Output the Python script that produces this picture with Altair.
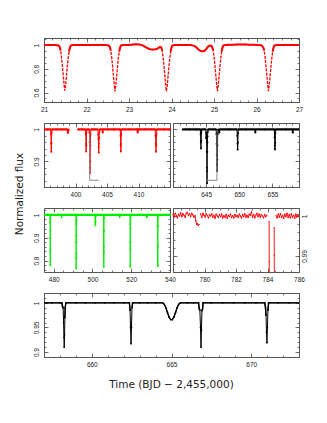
import altair as alt
import pandas as pd

# ---------------- data ----------------
# Panel 1: days 21-27 (red)
t1 = [21.00, 21.05, 21.10, 21.15, 21.20, 21.25, 21.30, 21.34,
      21.37, 21.39, 21.41, 21.43, 21.45, 21.47, 21.49, 21.51, 21.53, 21.55, 21.57, 21.59, 21.61, 21.63,
      21.68, 21.75, 21.85, 21.95, 22.05, 22.15, 22.25, 22.35, 22.45, 22.52,
      22.55, 22.57, 22.59, 22.61, 22.63, 22.65, 22.67, 22.69, 22.71, 22.73, 22.75, 22.77, 22.79, 22.81,
      22.86, 22.95, 23.05, 23.15, 23.25, 23.32, 23.38, 23.44, 23.50, 23.56, 23.62, 23.68, 23.73,
      23.76, 23.78, 23.80, 23.82, 23.84, 23.86, 23.88, 23.90, 23.92, 23.94, 23.96, 23.98, 24.00, 24.02,
      24.07, 24.15, 24.25, 24.35, 24.45, 24.52, 24.58, 24.63, 24.68, 24.73, 24.78, 24.82, 24.86, 24.90, 24.94,
      24.96, 24.98, 25.00, 25.02, 25.04, 25.06, 25.08, 25.10, 25.12, 25.14, 25.16, 25.18, 25.20, 25.22,
      25.27, 25.35, 25.45, 25.55, 25.65, 25.75, 25.85, 25.95, 26.05, 26.12,
      26.16, 26.18, 26.20, 26.22, 26.24, 26.26, 26.28, 26.30, 26.32, 26.34, 26.36, 26.38, 26.40, 26.42,
      26.47, 26.55, 26.65, 26.75, 26.85, 26.95, 27.00]
f1 = [1.000, 1.000, 1.001, 1.000, 1.000, 1.000, 0.999, 0.997,
      0.985, 0.955, 0.905, 0.835, 0.755, 0.675, 0.615, 0.665, 0.745, 0.825, 0.895, 0.945, 0.980, 0.996,
      1.000, 1.001, 1.001, 1.000, 1.000, 1.001, 1.001, 1.000, 1.000, 0.997,
      0.985, 0.955, 0.905, 0.835, 0.755, 0.675, 0.610, 0.660, 0.740, 0.820, 0.890, 0.945, 0.980, 0.996,
      1.000, 1.001, 1.004, 1.007, 1.006, 0.998, 0.986, 0.973, 0.965, 0.962, 0.964, 0.972, 0.985,
      0.980, 0.955, 0.905, 0.835, 0.755, 0.675, 0.612, 0.660, 0.740, 0.820, 0.890, 0.945, 0.980, 0.996,
      1.000, 1.001, 1.001, 1.000, 1.000, 0.996, 0.983, 0.963, 0.951, 0.948, 0.952, 0.968, 0.988, 0.996, 0.993,
      0.980, 0.955, 0.905, 0.835, 0.755, 0.675, 0.612, 0.660, 0.740, 0.820, 0.890, 0.945, 0.980, 0.996,
      1.000, 1.003, 1.004, 1.005, 1.005, 1.005, 1.004, 1.003, 1.001, 0.998,
      0.980, 0.955, 0.905, 0.835, 0.755, 0.675, 0.612, 0.660, 0.740, 0.820, 0.890, 0.945, 0.980, 0.996,
      1.000, 1.001, 1.001, 1.001, 1.000, 1.000, 1.000]

# Panel 2: days 395-415 (red), data gap 398.9-400.4
t2 = [395.00, 395.60, 396.05, 396.10, 396.13, 396.16, 396.19, 396.22, 396.27, 397.00, 397.80,
      398.70, 398.76, 398.80, 398.84, 398.90,
      400.40, 401.00, 401.58, 401.63, 401.66, 401.69, 401.72, 401.75, 401.80,
      402.16, 402.20, 402.23, 402.25, 402.27, 402.29, 402.32, 402.35, 402.39, 402.45,
      403.00, 403.55, 403.60, 403.63, 403.66, 403.69, 403.72, 403.75, 403.78, 403.85,
      404.25, 404.30, 404.33, 404.37, 405.20, 406.10,
      407.10, 407.14, 407.17, 407.20, 407.23, 407.26, 407.30, 408.50,
      409.80, 409.84, 409.87, 409.91, 409.95, 411.00,
      412.65, 412.70, 412.74, 412.78, 412.82, 412.86, 412.90, 414.00, 415.00]
f2 = [1.000, 1.000, 1.000, 0.985, 0.955, 0.930, 0.958, 0.990, 1.000, 1.000, 1.000,
      1.000, 0.992, 0.989, 0.995, 1.000,
      1.000, 1.000, 1.000, 0.985, 0.955, 0.931, 0.950, 0.990, 1.000,
      1.000, 0.990, 0.960, 0.920, 0.880, 0.864, 0.900, 0.950, 0.985, 1.000,
      1.000, 1.000, 0.985, 0.970, 0.945, 0.928, 0.955, 0.975, 0.992, 1.000,
      1.000, 0.992, 0.990, 1.000, 1.000, 1.000,
      1.000, 0.980, 0.950, 0.931, 0.955, 0.985, 1.000, 1.000,
      1.000, 0.993, 0.990, 0.996, 1.000, 1.000,
      1.000, 0.980, 0.955, 0.930, 0.950, 0.985, 1.000, 1.000, 1.000]
gaps2 = [399.5]
br2_t = [402.25, 402.25, 403.68]
br2_f = [0.988, 0.841, 0.841]

# Panel 3: days 640-659 (black)
t3 = [641.46, 642.50, 643.50, 644.12, 644.16, 644.19, 644.22, 644.25, 644.28, 644.32,
      644.95, 645.00, 645.03, 645.06, 645.09, 645.11, 645.13, 645.15, 645.17, 645.19, 645.21, 645.24, 645.28,
      646.50, 646.55, 646.58, 646.61, 646.63, 646.65, 646.68, 646.71, 646.74, 646.80,
      646.95, 647.00, 647.05, 648.50,
      649.65, 649.69, 649.72, 649.75, 649.78, 649.81, 649.86, 651.00,
      652.36, 652.40, 652.43, 652.47, 653.80,
      655.28, 655.32, 655.35, 655.38, 655.41, 655.44, 655.48, 657.00,
      658.00, 658.04, 658.07, 658.10, 659.00]
f3 = [1.000, 1.000, 1.000, 1.000, 0.985, 0.960, 0.940, 0.965, 0.990, 1.000,
      1.000, 0.972, 0.990, 0.975, 0.930, 0.880, 0.832, 0.870, 0.930, 0.960, 0.978, 0.992, 1.000,
      1.000, 0.985, 0.955, 0.920, 0.890, 0.870, 0.905, 0.950, 0.985, 1.000,
      0.992, 0.990, 1.000, 1.000,
      1.000, 0.980, 0.955, 0.937, 0.960, 0.988, 1.000, 1.000,
      1.000, 0.992, 0.990, 1.000, 1.000,
      1.000, 0.975, 0.950, 0.937, 0.958, 0.988, 1.000, 1.000,
      1.000, 0.991, 0.990, 1.000, 1.000]
gaps3 = []
br3_t = [645.13, 646.63, 646.63]
br3_f = [0.841, 0.841, 0.987]

# Panel 4: days 475-540 (green)
t4 = [475.00, 477.00, 478.05, 478.12, 478.18, 478.22, 478.25, 478.29, 478.33, 478.38, 478.45,
      482.00, 484.00, 484.05, 484.10, 488.00,
      491.45, 491.50, 491.55, 491.58, 491.61, 491.64, 491.68, 491.73, 491.80,
      495.00, 498.00, 501.35, 501.42, 501.48, 501.52, 501.56, 501.62, 501.70,
      505.65, 505.72, 505.76, 505.80, 505.84, 505.88, 505.92, 505.97, 506.05,
      510.00, 514.00, 514.05, 514.10,
      519.35, 519.40, 519.45, 519.50, 519.55, 519.60, 519.66, 519.75,
      524.00, 528.00, 528.05, 528.10,
      533.55, 533.60, 533.65, 533.70, 533.75, 533.80, 533.86, 533.95, 537.00, 540.00]
f4 = [1.000, 1.000, 1.000, 0.970, 0.900, 0.840, 0.780, 0.850, 0.930, 0.985, 1.000,
      1.000, 1.000, 0.990, 1.000, 1.000,
      1.000, 0.960, 0.880, 0.810, 0.765, 0.830, 0.910, 0.975, 1.000,
      1.000, 1.000, 1.000, 0.985, 0.965, 0.955, 0.970, 0.992, 1.000,
      1.000, 0.984, 0.930, 0.860, 0.773, 0.840, 0.930, 0.985, 1.000,
      1.000, 1.000, 0.991, 1.000,
      1.000, 0.960, 0.880, 0.773, 0.850, 0.940, 0.990, 1.000,
      1.000, 1.000, 0.990, 1.000,
      1.000, 0.950, 0.860, 0.776, 0.860, 0.950, 0.992, 1.000, 1.000, 1.000]
gaps4 = []

# Panel 5: days 778-786 (red, noisy); gaps after 779.65, 783.95, 784.11, 784.43
t5 = [778.00, 778.07, 778.14, 778.21, 778.28, 778.35, 778.42, 778.49, 778.56, 778.63,
      778.70, 778.77, 778.84, 778.91, 778.98, 779.05, 779.12, 779.19, 779.26, 779.33,
      779.40, 779.45, 779.50, 779.55, 779.60, 779.65,
      779.76, 779.83, 779.90, 779.97, 780.04, 780.11, 780.18, 780.25, 780.32, 780.39,
      780.46, 780.53, 780.60, 780.67, 780.74, 780.81, 780.88, 780.95, 781.02, 781.09,
      781.16, 781.23, 781.30, 781.37, 781.44, 781.51, 781.58, 781.65, 781.72, 781.79,
      781.86, 781.93, 782.00, 782.07, 782.14, 782.21, 782.28, 782.35, 782.42, 782.49,
      782.56, 782.63, 782.70, 782.77, 782.84, 782.91, 782.98, 783.05, 783.12, 783.19,
      783.26, 783.33, 783.40, 783.47, 783.54, 783.61, 783.68, 783.75, 783.82, 783.89, 783.95,
      784.105, 784.110, 784.115,
      784.425, 784.430, 784.435,
      784.54, 784.61, 784.68, 784.75, 784.82, 784.89, 784.96, 785.03, 785.10, 785.17,
      785.24, 785.31, 785.38, 785.45, 785.52, 785.59, 785.66, 785.73, 785.80, 785.87,
      785.94, 786.00]
f5 = [1.0004, 0.9997, 1.0007, 1.0001, 0.9995, 1.0005, 1.0000, 1.0008, 0.9998, 1.0006,
      1.0002, 0.9996, 1.0007, 1.0009, 1.0001, 1.0006, 0.9998, 1.0007, 1.0003, 0.9997,
      1.0001, 0.9988, 0.9979, 0.9981, 0.9976, 0.9979,
      1.0005, 0.9996, 1.0007, 1.0002, 0.9997, 1.0006, 1.0001, 0.9995, 1.0004, 1.0000,
      1.0006, 0.9997, 1.0002, 0.9994, 1.0005, 1.0000, 0.9996, 1.0004, 0.9998, 1.0005,
      0.9995, 1.0001, 0.9997, 1.0004, 0.9994, 1.0002, 0.9998, 1.0005, 0.9996, 1.0001,
      0.9995, 1.0004, 0.9998, 1.0002, 0.9996, 1.0005, 1.0000, 0.9995, 1.0004, 0.9998,
      1.0006, 0.9997, 1.0002, 0.9996, 1.0005, 1.0001, 1.0011, 0.9997, 1.0004, 0.9995,
      1.0002, 1.0007, 0.9998, 1.0005, 0.9996, 1.0004, 1.0000, 0.9995, 1.0004, 0.9998, 1.0002,
      0.9986, 0.9885, 0.9600,
      0.9971, 0.9902, 0.9600,
      1.0001, 0.9995, 1.0005, 0.9997, 1.0006, 0.9996, 1.0002, 0.9994, 1.0005, 0.9998,
      1.0007, 0.9996, 1.0004, 0.9995, 1.0006, 0.9997, 1.0002, 0.9994, 1.0005, 0.9997,
      1.0004, 1.0000]
gaps5 = [779.70, 784.00, 784.30, 784.50]

# Panel 6: days 657-673 (black)
t6 = [657.00, 657.50, 658.00, 658.12, 658.16, 658.20, 658.23, 658.25, 658.27, 658.29, 658.31, 658.33, 658.37,
      659.00, 659.60, 660.20, 660.80, 661.40, 662.00,
      662.36, 662.40, 662.43, 662.46, 662.49, 662.52, 662.56,
      663.00, 663.50, 664.00,
      664.45, 664.55, 664.65, 664.75, 664.85, 664.95, 665.05, 665.15, 665.25, 665.35, 665.45, 665.55,
      666.00, 666.40, 666.70, 666.74, 666.78, 666.82, 666.85, 666.88, 666.91, 666.95, 666.98,
      667.50, 668.20, 668.90, 669.60, 670.30,
      670.85, 670.90, 670.93, 670.96, 670.99, 671.02, 671.05, 671.09,
      671.70, 672.40, 673.00]
f6 = [1.000, 1.000, 1.000, 1.000, 0.993, 0.990, 0.960, 0.930, 0.910, 0.935, 0.970, 0.990, 1.000,
      1.000, 1.000, 1.000, 1.000, 1.000, 1.000,
      1.000, 0.985, 0.950, 0.917, 0.950, 0.990, 1.000,
      1.000, 1.000, 1.000,
      1.000, 0.997, 0.990, 0.980, 0.971, 0.966, 0.966, 0.971, 0.980, 0.990, 0.997, 1.000,
      1.000, 1.000, 1.000, 0.988, 0.985, 0.950, 0.910, 0.945, 0.984, 0.988, 1.000,
      1.000, 1.000, 1.000, 1.000, 1.000,
      1.000, 0.990, 0.975, 0.940, 0.919, 0.950, 0.985, 1.000,
      1.000, 1.000, 1.000]
gaps6 = []

# axis tick values
x1_major = [21, 22, 23, 24, 25, 26, 27]
y1_major = [0.6, 0.8, 1.0]
x2_major = [400, 405, 410]
y2_major = [0.9, 1.0]
x3_major = [645, 650, 655]
x4_major = [480, 500, 520, 540]
y4_major = [0.8, 0.9, 1.0]
x5_major = [780, 782, 784, 786]
y5_major = [0.99, 1.0]
x6_major = [660, 665, 670]
y6_major = [0.9, 0.95, 1.0]


def ticks(a, b, step):
    n = int(round((b - a) / step))
    return [round(a + i * step, 6) for i in range(n + 1)]


def segments(t, gaps):
    return [sum(1 for g in gaps if v > g) for v in t]


def baseline_runs(t, f, seg, thr):
    """Keep the out-of-eclipse points; start a new run after every eclipse or gap."""
    rows, run, prev_ok, prev_seg = [], 0, True, None
    for ti, fi, si in zip(t, f, seg):
        ok = fi >= thr
        if ok and (not prev_ok or (prev_seg is not None and si != prev_seg)):
            run += 1
        if ok:
            rows.append((ti, fi, run))
        prev_ok, prev_seg = ok, si
    return pd.DataFrame(rows, columns=["t", "f", "run"])


# ---------------- styling / layout ----------------
W, H = 255, 64
LEFT = (0, 126)
RIGHT = (129, 255)
FULL = (0, 255)
FRAME = "#555555"
TXT = "#222222"
LFONT = "Liberation Sans"
TFONT = "DejaVu Sans"
MAJ, MIN = 4, 2


def axis(orient, values, t, off, labels=False, pad=0.0, **extra):
    kw = dict(orient=orient, values=values, grid=False, domain=False,
              ticks=True, tickSize=t, tickColor=FRAME, tickWidth=0.8,
              offset=off, labels=labels, title=None)
    if labels:
        horiz = orient in ("top", "bottom")
        kw.update(format="d" if horiz else "~g", labelFont=LFONT, labelFontSize=6.5,
                  labelColor=TXT, labelPadding=pad, labelOverlap=False, labelFlush=False,
                  labelBound=False, labelBaseline="middle", labelAlign="center",
                  labelAngle=0 if horiz else 270)
    kw.update(extra)
    return alt.Axis(**kw)


def frame_axis(orient, off):
    return alt.Axis(orient=orient, values=[], grid=False, domain=True, ticks=False,
                    labels=False, offset=off, domainColor=FRAME, domainWidth=1, title=None)


def panel(t, f, gaps, color, xdom, ydom, xr, xmaj, xmin, ymaj, ymin, ylab="left",
          line_w=1.0, dash=None, pt=3, base_w=None, thr=0.995,
          xtitle=None, ytitle=None, bracket=None):
    L, R = xr
    seg = segments(t, gaps)
    df = pd.DataFrame({"t": t, "f": f, "seg": seg})
    xs = alt.Scale(domain=xdom, range=[L, R], nice=False, zero=False)
    ys = alt.Scale(domain=ydom, nice=False, zero=False)

    def enc(xa, ya):
        return dict(x=alt.X("t:Q", scale=xs, axis=xa), y=alt.Y("f:Q", scale=ys, axis=ya))

    xb = axis("bottom", xmaj, MAJ, -MAJ, labels=True, pad=7, **(xtitle or {}))
    yl = axis("left", ymaj, MAJ, -(L + MAJ), labels=(ylab == "left"), pad=8, **(ytitle or {}))
    xt = axis("top", xmaj, MAJ, -MAJ)
    yr = axis("right", ymaj, MAJ, R - MAJ - W, labels=(ylab == "right"), pad=5.5)
    base = alt.Chart(df)
    line_kw = dict(color=color, strokeWidth=line_w, clip=True)
    if dash:
        line_kw["strokeDash"] = dash
    layers = [
        base.mark_line(**line_kw).encode(detail="seg:N", **enc(xb, yl)),
        base.mark_circle(color=color, size=pt, opacity=1, clip=True).encode(**enc(xt, yr)),
        base.mark_point(opacity=0).encode(**enc(axis("bottom", xmin, MIN, -MIN),
                                                axis("left", ymin, MIN, -(L + MIN)))),
        base.mark_point(opacity=0).encode(**enc(axis("top", xmin, MIN, -MIN),
                                                axis("right", ymin, MIN, R - MIN - W))),
        base.mark_point(opacity=0).encode(**enc(frame_axis("bottom", 0), frame_axis("left", -L))),
        base.mark_point(opacity=0).encode(**enc(frame_axis("top", 0), frame_axis("right", R - W))),
    ]
    if base_w:
        dfo = baseline_runs(t, f, seg, thr)
        layers.append(alt.Chart(dfo).mark_line(color=color, strokeWidth=base_w, clip=True).encode(
            x=alt.X("t:Q", scale=xs, axis=None), y=alt.Y("f:Q", scale=ys, axis=None),
            detail="run:N"))
    if bracket is not None:
        bt, bf = bracket
        dfb = pd.DataFrame({"t": bt, "f": bf, "i": list(range(len(bt)))})
        layers.append(alt.Chart(dfb).mark_line(color="#888888", strokeWidth=1, clip=True).encode(
            x=alt.X("t:Q", scale=xs, axis=None), y=alt.Y("f:Q", scale=ys, axis=None),
            order="i:Q"))
    return alt.layer(*layers).resolve_axis(x="independent", y="independent")


ytitle = dict(title="Normalized flux", titleX=-29, titleY=-14.5, titleAngle=270,
              titleAlign="center", titleBaseline="middle", titleFont=TFONT,
              titleFontSize=10.5, titleFontWeight="normal", titleColor=TXT)
xtitle = dict(title="Time (BJD \u2212 2,455,000)", titleX=127, titleY=31, titleAngle=0,
              titleAlign="center", titleBaseline="middle", titleFont=TFONT,
              titleFontSize=10.5, titleFontWeight="normal", titleColor=TXT)

p1 = panel(t1, f1, [], "#ff0000", [21, 27], [0.52, 1.06], FULL,
           x1_major, ticks(21, 27, 0.2), y1_major, ticks(0.55, 1.05, 0.05),
           line_w=1.3, dash=[3, 1.2], pt=0, base_w=2.0, thr=0.94)
p2 = panel(t2, f2, gaps2, "#ff0000", [395, 415], [0.82, 1.02], LEFT,
           x2_major, ticks(395, 415, 1), y2_major, ticks(0.82, 1.02, 0.02),
           line_w=1.0, pt=4, base_w=2.2, bracket=(br2_t, br2_f))
p3 = panel(t3, f3, gaps3, "#000000", [640, 659], [0.82, 1.02], RIGHT,
           x3_major, ticks(640, 659, 1), y2_major, ticks(0.82, 1.02, 0.02), ylab=None,
           line_w=1.0, pt=4, base_w=2.2, bracket=(br3_t, br3_f))
p4 = panel(t4, f4, gaps4, "#00ee00", [475, 540], [0.75, 1.03], LEFT,
           x4_major, ticks(475, 540, 5), y4_major, ticks(0.76, 1.02, 0.02),
           line_w=1.0, pt=4, base_w=2.2, ytitle=ytitle)
p5 = panel(t5, f5, gaps5, "#ff0000", [778, 786], [0.986, 1.002], RIGHT,
           x5_major, ticks(778, 786, 0.5), y5_major, ticks(0.986, 1.002, 0.002), ylab="right",
           line_w=0.9, pt=2)
p6 = panel(t6, f6, gaps6, "#000000", [657, 673], [0.89, 1.02], FULL,
           x6_major, ticks(657, 673, 1), y6_major, ticks(0.89, 1.02, 0.01),
           line_w=1.0, pt=3, base_w=1.4, thr=0.962, xtitle=xtitle)

row1 = p1.properties(width=W, height=H)
row2 = alt.layer(p2, p3).resolve_scale(x="independent", y="independent").properties(width=W, height=H)
row3 = alt.layer(p4, p5).resolve_scale(x="independent", y="independent").properties(width=W, height=H)
row4 = p6.properties(width=W, height=H)

chart = alt.vconcat(row1, row2, row3, row4, spacing=21, bounds="flush").properties(
    padding={"left": 5, "top": 29, "right": 5, "bottom": 5}
).configure_view(stroke=None).configure_axis(grid=False)

chart.save("out.html", embed_options={"renderer": "svg", "actions": False})
